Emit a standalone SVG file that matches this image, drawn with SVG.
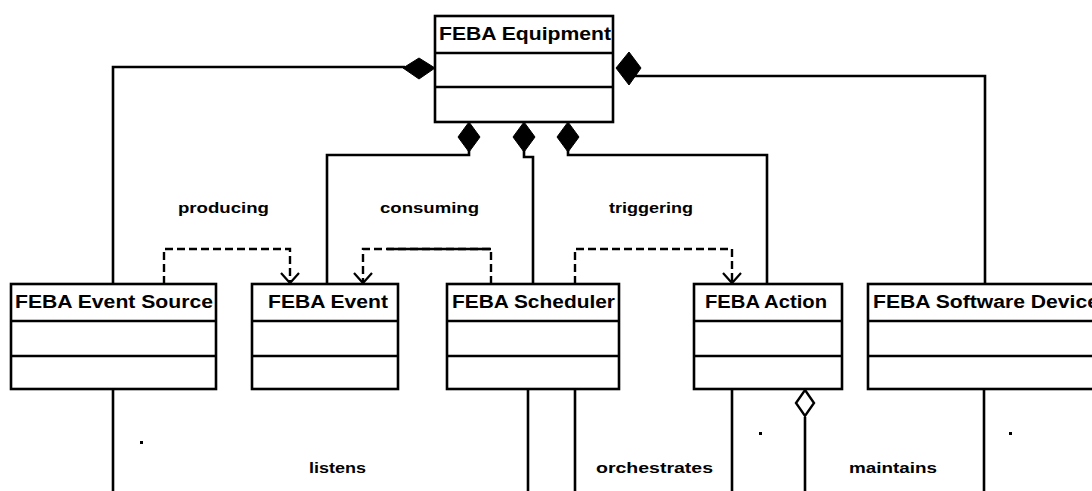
<svg xmlns="http://www.w3.org/2000/svg" width="1092" height="491" viewBox="0 0 1092 491">
<style>
.box{fill:#fff;stroke:#000;stroke-width:2.6}
.div{stroke:#000;stroke-width:2.6}
.title{font-family:"Liberation Sans",Arial,sans-serif;font-weight:bold;font-size:18px;fill:#000}
.lbl{font-family:"Liberation Sans",Arial,sans-serif;font-weight:bold;font-size:15px;fill:#000}
.ln{fill:none;stroke:#000;stroke-width:2.6}
.dash{fill:none;stroke:#000;stroke-width:2.4;stroke-dasharray:8 4}
.comp{fill:#000;stroke:#000;stroke-width:1}
.agg{fill:#fff;stroke:#000;stroke-width:2.4}
.arr{fill:none;stroke:#000;stroke-width:2.2}
</style>
<rect width="1092" height="491" fill="#fff"/>
<g id="connectors">
  <!-- compositions to FEBA Equipment -->
  <path class="ln" d="M113,284 V67 H405"/>
  <polygon class="comp" points="435,68 419,58 403,68 419,79"/>
  <path class="ln" d="M633,76 H985 V284"/>
  <polygon class="comp" points="616,68 629,52 641,68 629,85"/>
  <path class="ln" d="M469,150 V155 H327 V284"/>
  <polygon class="comp" points="469,122 480,137 469,152 458,137"/>
  <path class="ln" d="M524,150 V157 H533 V284"/>
  <polygon class="comp" points="524,122 535,137 524,152 513,137"/>
  <path class="ln" d="M568,150 V155 H767 V284"/>
  <polygon class="comp" points="568,122 579,137 568,152 557,137"/>
  <!-- dependencies -->
  <path class="dash" d="M164,284 V249 H290 V284"/>
  <path class="arr" d="M281,273 L290,283 L299,273"/>
  <path class="dash" d="M491,284 V249 H363 V284"/>
  <path class="ln" d="M387,249 H491"/>
  <path class="arr" d="M354,273 L363,283 L372,273"/>
  <path class="dash" d="M575,284 V249 H732 V284"/>
  <path class="arr" d="M723,273 L732,283 L741,273"/>
  <!-- lower associations -->
  <path class="ln" d="M113,389 V491"/>
  <path class="ln" d="M528,389 V491"/>
  <path class="ln" d="M575,389 V491"/>
  <path class="ln" d="M732,389 V491"/>
  <path class="ln" d="M805,417 V491"/>
  <polygon class="agg" points="805,390 814,403 805,416 796,403"/>
  <path class="ln" d="M984,389 V491"/>
  <rect x="140" y="441" width="3" height="3" fill="#000"/>
  <rect x="759" y="432" width="3" height="3" fill="#000"/>
  <rect x="1009" y="432" width="3" height="3" fill="#000"/>
  <text class="lbl" x="178" y="213" textLength="91" lengthAdjust="spacingAndGlyphs">producing</text>
  <text class="lbl" x="380" y="213" textLength="99" lengthAdjust="spacingAndGlyphs">consuming</text>
  <text class="lbl" x="609" y="213" textLength="84" lengthAdjust="spacingAndGlyphs">triggering</text>
  <text class="lbl" x="309" y="473" textLength="57" lengthAdjust="spacingAndGlyphs">listens</text>
  <text class="lbl" x="596" y="473" textLength="117" lengthAdjust="spacingAndGlyphs">orchestrates</text>
  <text class="lbl" x="849" y="473" textLength="88" lengthAdjust="spacingAndGlyphs">maintains</text>
</g>
<g id="feba-equipment">
  <rect class="box" x="435" y="16" width="178" height="106"/>
  <line class="div" x1="435" y1="53" x2="613" y2="53"/>
  <line class="div" x1="435" y1="87" x2="613" y2="87"/>
  <text class="title" x="439" y="40" textLength="172" lengthAdjust="spacingAndGlyphs">FEBA Equipment</text>
</g>
<g id="feba-event-source">
  <rect class="box" x="11" y="284" width="205" height="105"/>
  <line class="div" x1="11" y1="321" x2="216" y2="321"/>
  <line class="div" x1="11" y1="356" x2="216" y2="356"/>
  <text class="title" x="15" y="308" textLength="198" lengthAdjust="spacingAndGlyphs">FEBA Event Source</text>
</g>
<g id="feba-event">
  <rect class="box" x="252" y="284" width="146" height="105"/>
  <line class="div" x1="252" y1="321" x2="398" y2="321"/>
  <line class="div" x1="252" y1="356" x2="398" y2="356"/>
  <text class="title" x="268" y="308" textLength="120" lengthAdjust="spacingAndGlyphs">FEBA Event</text>
</g>
<g id="feba-scheduler">
  <rect class="box" x="447" y="284" width="172" height="105"/>
  <line class="div" x1="447" y1="321" x2="619" y2="321"/>
  <line class="div" x1="447" y1="356" x2="619" y2="356"/>
  <text class="title" x="452" y="308" textLength="163" lengthAdjust="spacingAndGlyphs">FEBA Scheduler</text>
</g>
<g id="feba-action">
  <rect class="box" x="694" y="284" width="148" height="105"/>
  <line class="div" x1="694" y1="321" x2="842" y2="321"/>
  <line class="div" x1="694" y1="356" x2="842" y2="356"/>
  <text class="title" x="705" y="308" textLength="122" lengthAdjust="spacingAndGlyphs">FEBA Action</text>
</g>
<g id="feba-software-device">
  <rect class="box" x="868" y="284" width="240" height="105"/>
  <line class="div" x1="868" y1="321" x2="1108" y2="321"/>
  <line class="div" x1="868" y1="356" x2="1108" y2="356"/>
  <text class="title" x="873" y="308" textLength="226" lengthAdjust="spacingAndGlyphs">FEBA Software Device</text>
</g>
</svg>
